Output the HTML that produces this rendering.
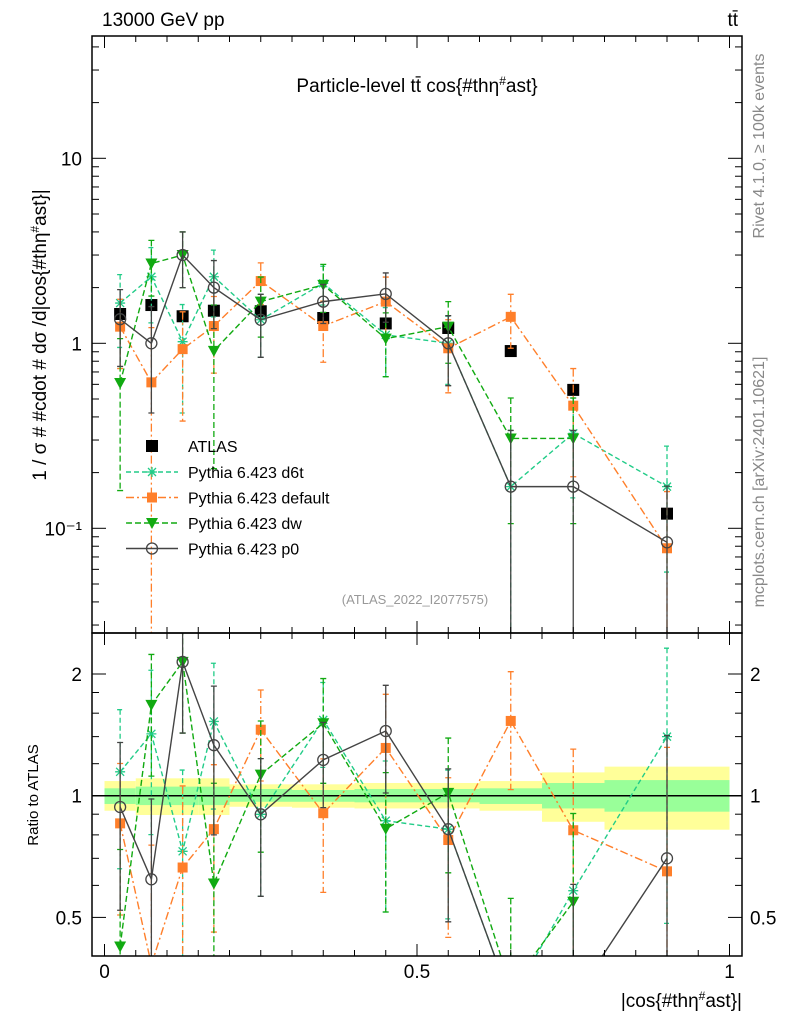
<!DOCTYPE html>
<html><head><meta charset="utf-8"><style>
html,body{margin:0;padding:0;background:#fff;width:786px;height:1024px;overflow:hidden;}
svg{display:block;font-family:"Liberation Sans",sans-serif;}
</style></head><body>
<svg id="chart" width="786" height="1024" viewBox="0 0 786 1024" overflow="hidden">
<defs>
<clipPath id="cm"><rect x="92" y="36" width="650" height="597"/></clipPath>
<clipPath id="cr"><rect x="92" y="633" width="650" height="323"/></clipPath>
</defs>
<g id="bands" clip-path="url(#cr)"></g>
<g id="main" clip-path="url(#cm)"></g>
<g id="ratio" clip-path="url(#cr)"></g>
<g id="axes"></g>
<text x="102" y="26" font-size="19">13000 GeV pp</text>
<text x="738" y="26" font-size="19" text-anchor="end">tt̄</text>
<text x="417" y="92" font-size="19" text-anchor="middle">Particle-level tt̄ cos{#thη<tspan dy="-7" font-size="12">#</tspan><tspan dy="7">ast}</tspan></text>
<text transform="translate(46,335) rotate(-90)" font-size="19" text-anchor="middle">1 / σ # #cdot # dσ /d|cos{#thη<tspan dy="-7" font-size="12">#</tspan><tspan dy="7">ast}|</tspan></text>
<text transform="translate(38,795) rotate(-90)" font-size="15" text-anchor="middle">Ratio to ATLAS</text>
<text x="742" y="1007" font-size="19" text-anchor="end">|cos{#thη<tspan dy="-7" font-size="12">#</tspan><tspan dy="7">ast}|</tspan></text>
<text transform="translate(764,146) rotate(-90)" font-size="16" fill="#888" text-anchor="middle">Rivet 4.1.0, ≥ 100k events</text>
<text transform="translate(764,482) rotate(-90)" font-size="16" fill="#888" text-anchor="middle">mcplots.cern.ch [arXiv:2401.10621]</text>
<text x="415" y="604" font-size="13" fill="#999" text-anchor="middle">(ATLAS_2022_I2077575)</text>
<g id="legend"></g>
</svg>
<script>
const binLo = [0,0.05,0.1,0.15,0.2,0.3,0.4,0.5,0.6,0.7,0.8];
const binHi = [0.05,0.1,0.15,0.2,0.3,0.4,0.5,0.6,0.7,0.8,1.0];
const atlas = [1.44,1.61,1.40,1.50,1.49,1.37,1.28,1.21,0.908,0.56,0.12];
const bandTotUp = [1.087,1.104,1.104,1.104,1.067,1.067,1.075,1.075,1.087,1.142,1.18];
const bandTotDn = [0.918,0.896,0.896,0.896,0.939,0.934,0.930,0.930,0.918,0.862,0.824];
const bandStatUp = [1.043,1.053,1.053,1.053,1.039,1.033,1.039,1.039,1.043,1.075,1.093];
const bandStatDn = [0.954,0.948,0.948,0.948,0.966,0.966,0.963,0.963,0.954,0.930,0.913];
const d6t = [1.65,2.29,1.02,2.29,1.34,2.11,1.11,1.0,0.168,0.326,0.168];
const d6tErr = [0.7,1.0,0.6,0.9,0.5,0.5,0.45,0.4,0.17,0.18,0.11];
const def = [1.23,0.615,0.93,1.24,2.17,1.24,1.68,0.94,1.39,0.46,0.078];
const defErr = [0.5,0.6,0.55,0.55,0.55,0.45,0.6,0.4,0.45,0.27,0.08];
const dw = [0.61,2.7,3.0,0.91,1.68,2.07,1.06,1.23,0.306,0.306,0];
const dwErr = [0.45,0.9,1.0,0.7,0.6,0.6,0.4,0.45,0.2,0.2,0];
const p0 = [1.35,1.0,3.0,2.0,1.34,1.68,1.85,1.0,0.168,0.168,0.084];
const p0Err = [0.6,0.58,1.0,0.8,0.5,0.4,0.55,0.41,0.17,0.17,0.085];
const mainTicks = [0.1,1,10];
const mainTickLabels = ["10\u207B\u00B9","1","10"];
const ratioTicks = [0.5,1,2];
const xTicks = [0,0.5,1];

const NS="http://www.w3.org/2000/svg";
function mk(tag,attrs,parent){const e=document.createElementNS(NS,tag);for(const k in attrs)e.setAttribute(k,attrs[k]);parent.appendChild(e);return e;}
const X=v=>104.5+625*v;
const Y=v=>Math.min(343.3-185*Math.log10(Math.max(v,1e-4)),1000);
const R=v=>Math.min(795.7-121.7*Math.log2(Math.max(v,1e-4)),1000);
const mainG=document.getElementById('main'),ratioG=document.getElementById('ratio'),bandG=document.getElementById('bands'),axG=document.getElementById('axes'),legG=document.getElementById('legend');

binLo.forEach((lo,i)=>{
 let r=mk('rect',{x:X(lo),y:R(bandTotUp[i]),width:X(binHi[i])-X(lo),height:R(bandTotDn[i])-R(bandTotUp[i]),fill:'#ffff99'},bandG);
 
 
 let g=mk('rect',{x:X(lo),y:R(bandStatUp[i]),width:X(binHi[i])-X(lo),height:R(bandStatDn[i])-R(bandStatUp[i]),fill:'#99ff99'},bandG);
 
 
});
const l1=mk('line',{x1:92,x2:742,y1:R(1),y2:R(1),stroke:'#000','stroke-width':1.5},bandG);



const centers=binLo.map((lo,i)=>(lo+binHi[i])/2);

function marker(g,type,x,y,color){
 let m;
 if(type==='sq'){m=mk('rect',{x:x-5,y:y-5,width:10,height:10,fill:color},g);}
 else if(type==='bigsq'){m=mk('rect',{x:x-6,y:y-6,width:12,height:12,fill:color},g);}
 else if(type==='tri'){m=mk('path',{d:`M${x-6},${y-5}L${x+6},${y-5}L${x},${y+6}Z`,fill:color},g);}
 else if(type==='circ'){m=mk('circle',{cx:x,cy:y,r:5.5,fill:'none',stroke:color,'stroke-width':1.3},g);}
 else {m=mk('path',{d:`M${x-5},${y}H${x+5}M${x},${y-5}V${y+5}M${x-4},${y-4}L${x+4},${y+4}M${x-4},${y+4}L${x+4},${y-4}`,stroke:color,'stroke-width':1.3},g);}
 return m;
}

const series=[
 {name:'d6t',label:'Pythia 6.423 d6t',vals:d6t,err:d6tErr,color:'#22cc88',dash:'5,3',m:'star'},
 {name:'default',label:'Pythia 6.423 default',vals:def,err:defErr,color:'#ff7f2a',dash:'8,3,2,3',m:'sq'},
 {name:'dw',label:'Pythia 6.423 dw',vals:dw,err:dwErr,color:'#11aa11',dash:'6,3',m:'tri'},
 {name:'p0',label:'Pythia 6.423 p0',vals:p0,err:p0Err,color:'#444444',dash:'',m:'circ'}
];

function drawSeries(g,s,ymap,vals,errs){
 const sg=mk('g',{},g);
 
 
 const idx=vals.map((v,i)=>i).filter(i=>vals[i]>0);
 idx.forEach(i=>{
  const v=vals[i],x=X(centers[i]);
  const e=mk('path',{d:`M${x},${ymap(v+errs[i])}V${ymap(v-errs[i])}M${x-3},${ymap(v+errs[i])}h6M${x-3},${ymap(v-errs[i])}h6`,stroke:s.color,'stroke-width':1.3,'stroke-dasharray':s.dash,fill:'none'},sg);
  
  
 });
 const pl=mk('polyline',{points:idx.map(i=>X(centers[i])+','+ymap(vals[i])).join(' '),fill:'none',stroke:s.color,'stroke-width':1.4,'stroke-dasharray':s.dash},sg);
 
 
 idx.forEach(i=>{
  const m=marker(sg,s.m,X(centers[i]),ymap(vals[i]),s.color);
  
  
 });
}

atlas.forEach((v,i)=>{
 const m=marker(mainG,'bigsq',X(centers[i]),Y(v),'#000');
 
 
});
series.forEach(s=>{
 drawSeries(mainG,s,Y,s.vals,s.err);
 drawSeries(ratioG,s,R,s.vals.map((v,i)=>v/atlas[i]),s.err.map((e,i)=>e/atlas[i]));
});

[[36,633],[633,956]].forEach(([t,b],k)=>{
 const f=mk('rect',{x:92,y:t,width:650,height:b-t,fill:'none',stroke:'#000','stroke-width':1.5},axG);
 
 
 for(let n=0;n<=20;n++){
  const v=n*0.05,x=X(v),big=n%10===0;
  const len=big?12:6;
  mk('line',{x1:x,x2:x,y1:b,y2:b-len,stroke:'#000','stroke-width':1},axG);
  mk('line',{x1:x,x2:x,y1:t,y2:t+len,stroke:'#000','stroke-width':1},axG);
 }
});
xTicks.forEach(v=>{
 const t=mk('text',{x:X(v),y:978,'font-size':19,'text-anchor':'middle'},axG);
 t.textContent=String(v);
 
 
});
for(let d=-2;d<=1;d++){for(let k=1;k<=9;k++){const v=k*Math.pow(10,d);const y=Y(v);if(y<36||y>633)continue;const len=k===1?14:7;
 mk('line',{x1:92,x2:92+len,y1:y,y2:y,stroke:'#000'},axG);mk('line',{x1:742,x2:742-len,y1:y,y2:y,stroke:'#000'},axG);}}
mainTicks.forEach((v,i)=>{
 const t=mk('text',{x:82,y:Y(v)+7,'font-size':19,'text-anchor':'end'},axG);
 t.textContent=mainTickLabels[i];
 
 
});
[0.5,0.6,0.7,0.8,0.9,1,1.2,1.4,1.6,1.8,2].forEach(v=>{const y=R(v);const len=(v===0.5||v===1||v===2)?14:7;
 mk('line',{x1:92,x2:92+len,y1:y,y2:y,stroke:'#000'},axG);mk('line',{x1:742,x2:742-len,y1:y,y2:y,stroke:'#000'},axG);});
ratioTicks.forEach(v=>{
 const t=mk('text',{x:82,y:R(v)+7,'font-size':19,'text-anchor':'end'},axG);
 t.textContent=String(v);
 
 
 const t2=mk('text',{x:750,y:R(v)+7,'font-size':19},axG);
 t2.textContent=String(v);
 
 
});

const lx=152;let ly=446;
const la=marker(legG,'bigsq',lx,ly,'#000');


const lt=mk('text',{x:188,y:ly+6,'font-size':16},legG);lt.textContent='ATLAS';


series.forEach((s,i)=>{
 const y=472+i*25.5;
 mk('line',{x1:126,x2:178,y1:y,y2:y,stroke:s.color,'stroke-width':1.4,'stroke-dasharray':s.dash},legG);
 const m=marker(legG,s.m,lx,y,s.color);
 
 
 const t=mk('text',{x:188,y:y+6,'font-size':16},legG);t.textContent=s.label;
 
 
});
</script>
</body></html>
